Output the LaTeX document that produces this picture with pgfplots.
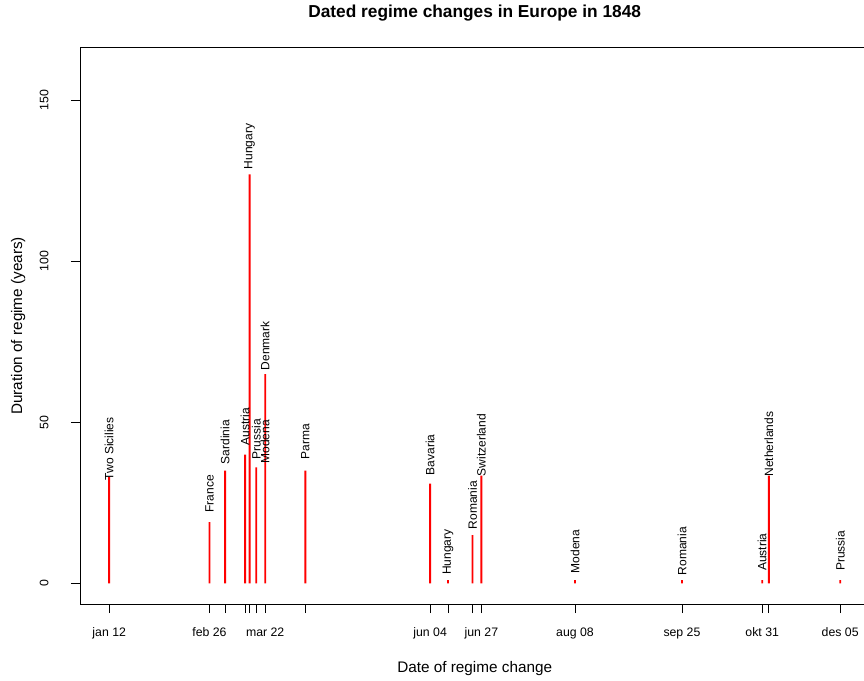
\documentclass[border=0pt]{standalone}
\usepackage{pgfplots}
\pgfplotsset{compat=1.18}
\usepackage{pgfplotstable}
\usepackage{fontspec}
\setmainfont{Liberation Sans}

\pgfplotstableread[col sep=comma]{
x,y,ly,label
12,33,32.0,Two Sicilies
57,19,22.0,France
64,35,37.0,Sardinia
73,40,42.9,Austria
75,127,128.6,Hungary
78,36,38.5,Prussia
82,35,37.2,Modena
82,65,66.2,Denmark
100,35,38.5,Parma
156,31,33.5,Bavaria
164,1,2.6,Hungary
175,15,16.8,Romania
179,33.5,33.2,Switzerland
221,1,3.1,Modena
269,1,2.5,Romania
305,1,3.8,Austria
308,33.5,33.1,Netherlands
340,1,3.8,Prussia
}\events

\begin{document}
\begin{tikzpicture}
\begin{scope}
\clip (-80bp,-77bp) rectangle (784bp,604bp);
\begin{axis}[
  scale only axis,
  width=789.4bp, height=556.4bp,
  xmin=-1.1, xmax=353.1,
  ymin=-6.4, ymax=166.4,
  axis line style={line width=0.8bp, black},
  tick style={line width=0.8bp, black},
  tick align=outside,
  major tick length=9bp,
  xtick={12,57,64,73,75,78,82,100,156,164,175,179,221,269,305,308,340},
  xticklabels={jan 12,feb 26,,,,,mar 22,,jun 04,,,jun 27,aug 08,sep 25,okt 31,,des 05},
  ytick={0,50,100,150},
  xtick pos=bottom, ytick pos=left,
  /pgf/number format/assume math mode=true,
  ticklabel style={font=\fontsize{12.3bp}{14bp}\selectfont},
  xticklabel style={anchor=base, yshift=-23bp},
  yticklabel style={rotate=90, anchor=base, yshift=22.5bp},
  every axis title/.style={at={(axis description cs:0.5,1.0534)}, anchor=base,
     font=\fontsize{17.3bp}{20bp}\selectfont\bfseries},
  title={Dated regime changes in Europe in 1848},
  every axis x label/.style={at={(axis description cs:0.5,-0.1223)}, anchor=base,
     font=\fontsize{15.3bp}{18bp}\selectfont},
  xlabel={Date of regime change},
  every axis y label/.style={at={(axis description cs:-0.0734,0.5)}, rotate=90, anchor=base,
     font=\fontsize{15.3bp}{18bp}\selectfont},
  ylabel={Duration of regime (years)},
  clip=false,
]
\addplot[ybar, bar width=1.9bp, fill=red, draw=none] table[x=x, y=y] {\events};
\addplot[draw=none, mark=none,
  nodes near coords,
  point meta=explicit symbolic,
  every node near coord/.style={rotate=90, anchor=west, inner sep=0pt,
     font=\fontsize{12bp}{14bp}\selectfont, text=black}]
  table[x=x, y=ly, meta=label] {\events};
\end{axis}
\end{scope}
\pgfresetboundingbox
\useasboundingbox (-80bp,-77bp) rectangle (784bp,604bp);
\end{tikzpicture}
\end{document}
